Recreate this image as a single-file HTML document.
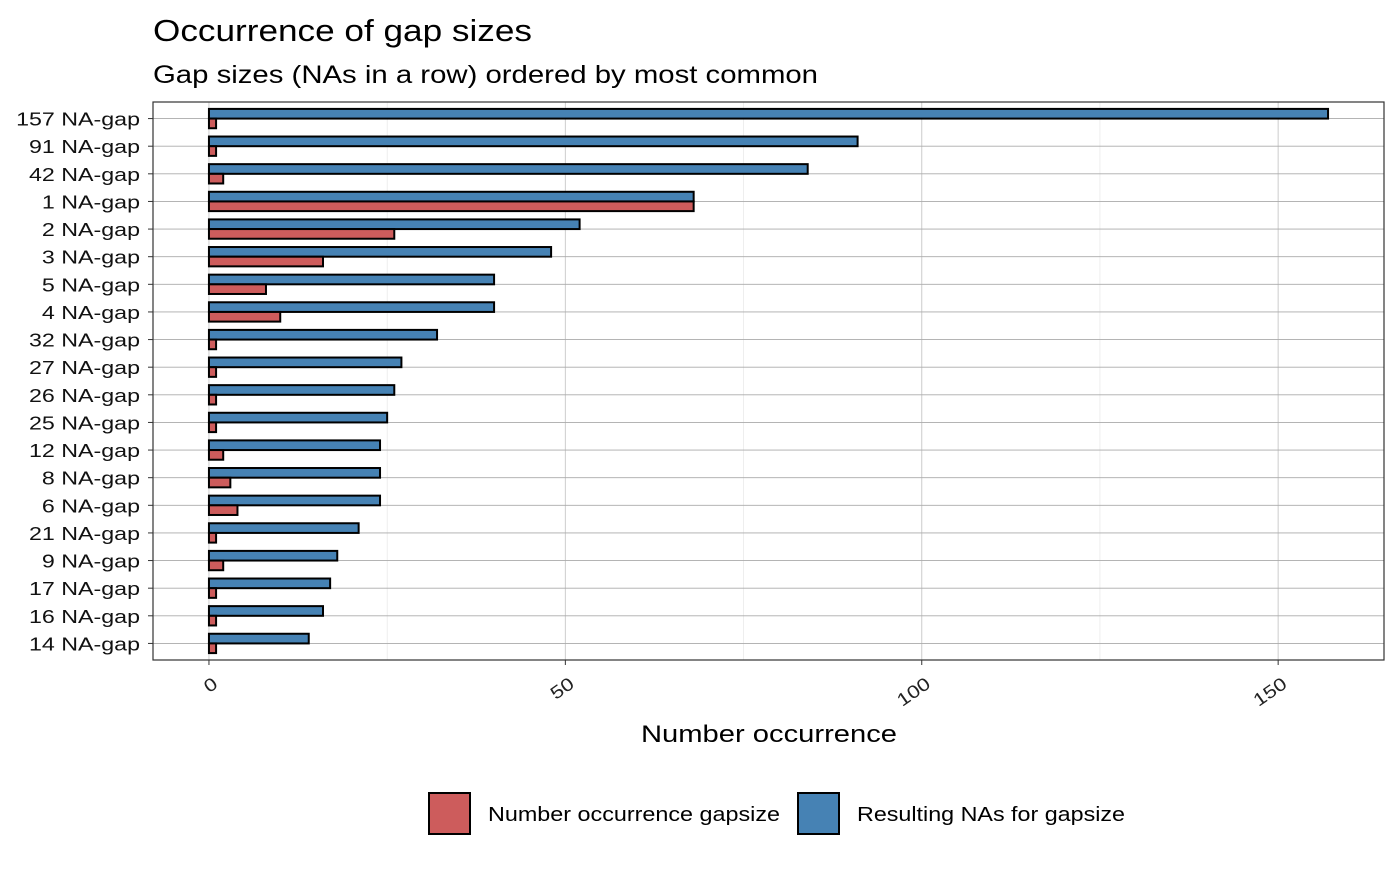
<!DOCTYPE html>
<html><head><meta charset="utf-8"><style>
body{margin:0;background:#fff;font-family:"Liberation Sans",Arial,sans-serif}
</style></head><body>
<svg id="chart" width="1400" height="866" xmlns="http://www.w3.org/2000/svg" font-family="Liberation Sans, Arial, sans-serif">
<text x="153" y="41" font-size="31" textLength="379" lengthAdjust="spacingAndGlyphs" fill="#000">Occurrence of gap sizes</text>
<text x="153" y="83" font-size="25" textLength="665" lengthAdjust="spacingAndGlyphs" fill="#000">Gap sizes (NAs in a row) ordered by most common</text>
<g id="grid"></g>
<g id="bars"></g>
<rect x="153" y="102" width="1231" height="558" fill="none" stroke="#333" stroke-width="1.2"/>
<g id="axes"></g>
<text x="641" y="742" font-size="24" textLength="256" lengthAdjust="spacingAndGlyphs">Number occurrence</text>
<g>
<rect x="429" y="793" width="41" height="41" fill="#CD5C5C" stroke="#000" stroke-width="2"/>
<text x="488" y="821" font-size="20" textLength="292" lengthAdjust="spacingAndGlyphs">Number occurrence gapsize</text>
<rect x="798" y="793" width="41" height="41" fill="#4682B4" stroke="#000" stroke-width="2"/>
<text x="857" y="821" font-size="20" textLength="268" lengthAdjust="spacingAndGlyphs">Resulting NAs for gapsize</text>
</g>
</svg>
<script>
const categories=["157 NA-gap","91 NA-gap","42 NA-gap","1 NA-gap","2 NA-gap","3 NA-gap","5 NA-gap","4 NA-gap","32 NA-gap","27 NA-gap","26 NA-gap","25 NA-gap","12 NA-gap","8 NA-gap","6 NA-gap","21 NA-gap","9 NA-gap","17 NA-gap","16 NA-gap","14 NA-gap"];
const resultingNAs=[157,91,84,68,52,48,40,40,32,27,26,25,24,24,24,21,18,17,16,14];
const occurrences=[1,1,2,68,26,16,8,10,1,1,1,1,2,3,4,1,2,1,1,1];
const xTicks=[0,50,100,150];
const xMinor=[25,75,125];
const NS="http://www.w3.org/2000/svg";
const PL=153,PR=1384,PT=102,PB=660;
const xmin=-7.85,xmax=164.85;
function X(v){return PL+(v-xmin)/(xmax-xmin)*(PR-PL);}
const n=categories.length;
function Y(i){return PT+(i+0.6)/(n+0.2)*(PB-PT);}
const band=(PB-PT)/(n+0.2);
function mk(tag,attrs,parent){const e=document.createElementNS(NS,tag);for(const k in attrs)e.setAttribute(k,attrs[k]);parent.appendChild(e);return e;}
function widen(t,f){const w=t.getComputedTextLength();t.setAttribute('textLength',(w*f).toFixed(1));t.setAttribute('lengthAdjust','spacingAndGlyphs');}
const grid=document.getElementById('grid'),bars=document.getElementById('bars'),axes=document.getElementById('axes');
xMinor.forEach(v=>{const l=mk('line',{x1:X(v),x2:X(v),y1:PT,y2:PB,stroke:'#e2e2e2','stroke-width':0.6},grid);

});
xTicks.forEach(v=>{const l=mk('line',{x1:X(v),x2:X(v),y1:PT,y2:PB,stroke:'#ccc','stroke-width':1},grid);


const t=mk('line',{x1:X(v),x2:X(v),y1:PB,y2:PB+5,stroke:'#333','stroke-width':1},axes);


const tx=mk('text',{x:0,y:14,'font-size':18,'text-anchor':'end',fill:'#222',transform:`translate(${X(v)+2} ${PB+15}) rotate(-35)`},axes);
tx.textContent=v;


widen(tx,1.2);});
categories.forEach((c,i)=>{const y=Y(i);
const g=mk('line',{x1:PL,x2:PR,y1:y,y2:y,stroke:'#aaa','stroke-width':0.8},grid);


const h=band*0.35;
const b=mk('rect',{x:X(0),y:y-h,width:X(resultingNAs[i])-X(0),height:h,fill:'#4682B4',stroke:'#000','stroke-width':2},bars);


const r=mk('rect',{x:X(0),y:y,width:X(occurrences[i])-X(0),height:h,fill:'#CD5C5C',stroke:'#000','stroke-width':2},bars);


const t=mk('line',{x1:PL-5,x2:PL,y1:y,y2:y,stroke:'#333','stroke-width':1},axes);


const tx=mk('text',{x:PL-13,y:y+7,'font-size':18,'text-anchor':'end',fill:'#111'},axes);
tx.textContent=c;


widen(tx,1.29);});
</script>
</body></html>
